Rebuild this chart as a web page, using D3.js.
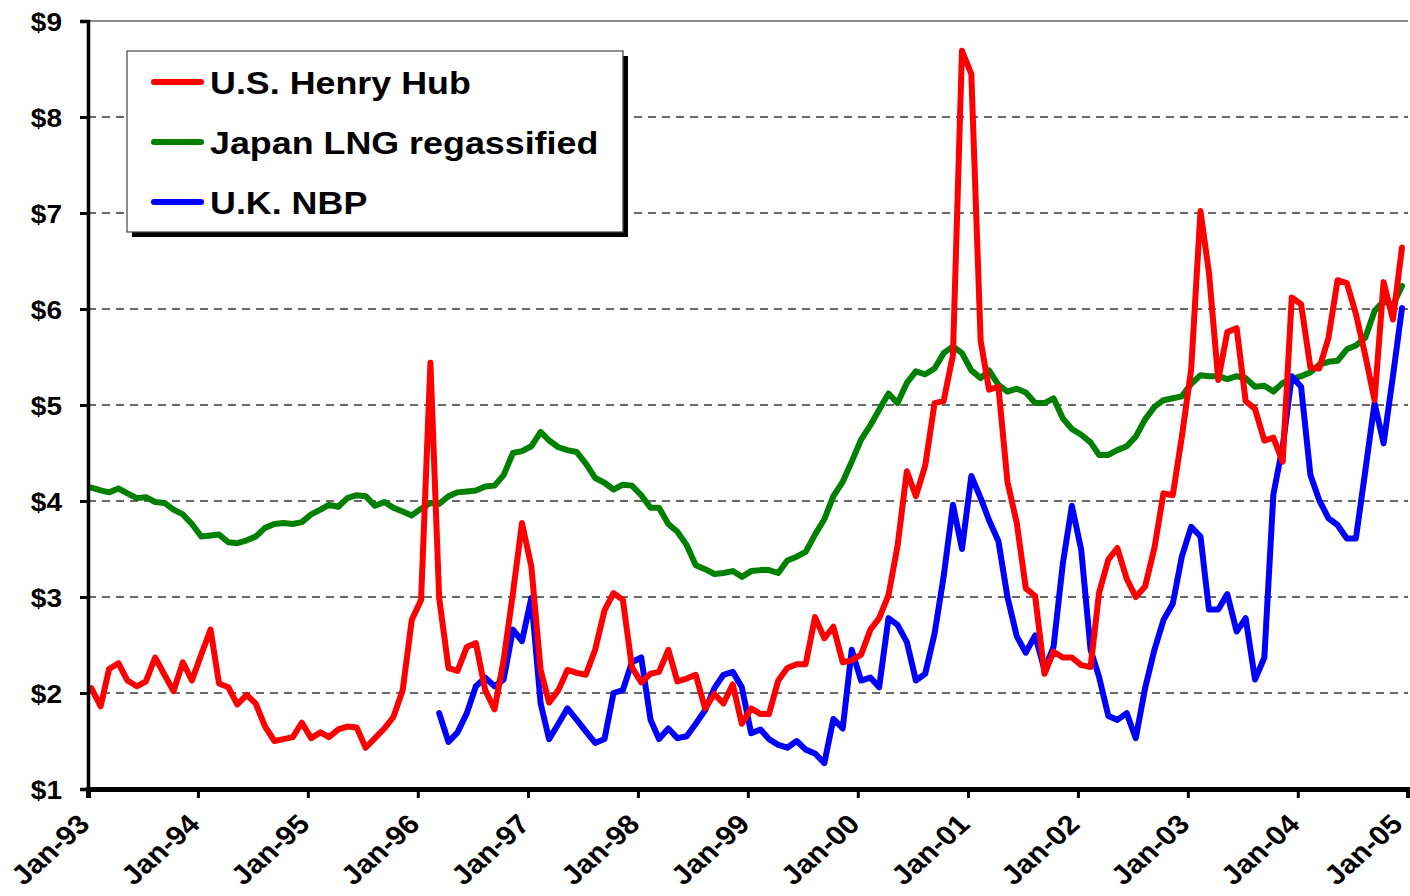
<!DOCTYPE html>
<html>
<head>
<meta charset="utf-8">
<script src="https://cdn.jsdelivr.net/npm/d3@7"></script>
<style>
  html, body { margin: 0; padding: 0; background: #ffffff; }
  svg { display: block; }
  text { font-family: "Liberation Sans", Arial, sans-serif; font-weight: bold; fill: #000; }
</style>
</head>
<body>
<svg id="chart" width="1410" height="896"></svg>
<script>
// ---------------- DATA ----------------
const firstYear = 1993;            // monthly series start: Jan-93
const monthCount = 144;            // Jan-93 .. Dec-04

const henryHub = [
  2.05,1.86,2.25,2.31,2.13,2.07,2.12,2.37,2.19,2.02,2.32,2.13,
  2.40,2.66,2.10,2.06,1.88,1.98,1.89,1.65,1.50,1.52,1.54,1.69,
  1.53,1.59,1.54,1.62,1.65,1.64,1.43,1.53,1.63,1.75,2.03,2.76,
  2.97,5.44,2.99,2.26,2.23,2.48,2.52,2.03,1.83,2.34,3.04,3.77,
  3.32,2.24,1.90,2.03,2.24,2.21,2.19,2.45,2.86,3.04,2.97,2.27,
  2.11,2.20,2.22,2.45,2.12,2.15,2.19,1.84,1.99,1.89,2.09,1.68,
  1.84,1.78,1.78,2.13,2.26,2.30,2.30,2.79,2.57,2.69,2.32,2.34,
  2.40,2.66,2.78,3.02,3.53,4.31,4.05,4.37,5.02,5.04,5.52,8.69,
  8.45,5.67,5.16,5.19,4.20,3.77,3.09,3.01,2.20,2.43,2.37,2.37,
  2.29,2.27,3.04,3.39,3.51,3.19,3.00,3.11,3.51,4.08,4.06,4.67,
  5.37,7.02,6.38,5.26,5.76,5.80,5.04,4.96,4.63,4.66,4.41,6.12,
  6.05,5.39,5.38,5.70,6.30,6.27,5.95,5.52,5.05,6.28,5.89,6.64
];

const japanLNG = [
  4.14,4.11,4.09,4.13,4.08,4.03,4.04,3.99,3.98,3.91,3.86,3.76,
  3.63,3.64,3.65,3.57,3.56,3.59,3.63,3.72,3.76,3.77,3.76,3.78,
  3.86,3.91,3.96,3.94,4.03,4.06,4.05,3.95,3.99,3.93,3.89,3.85,
  3.92,3.98,3.97,4.05,4.09,4.10,4.11,4.15,4.16,4.27,4.50,4.52,
  4.57,4.72,4.63,4.56,4.53,4.51,4.39,4.24,4.19,4.12,4.17,4.16,
  4.06,3.93,3.93,3.76,3.68,3.54,3.33,3.29,3.24,3.25,3.27,3.21,
  3.27,3.28,3.28,3.25,3.38,3.42,3.47,3.65,3.81,4.05,4.20,4.41,
  4.64,4.79,4.95,5.12,5.02,5.23,5.35,5.32,5.38,5.54,5.61,5.54,
  5.36,5.28,5.36,5.21,5.14,5.17,5.13,5.02,5.02,5.07,4.86,4.75,
  4.69,4.61,4.48,4.48,4.53,4.57,4.67,4.85,4.98,5.05,5.07,5.09,
  5.22,5.31,5.30,5.30,5.27,5.30,5.28,5.19,5.20,5.14,5.23,5.27,
  5.30,5.34,5.42,5.45,5.46,5.58,5.62,5.70,5.98,6.08,6.04,6.24
];

const ukNBP = [
  null,null,null,null,null,null,null,null,null,null,null,null,
  null,null,null,null,null,null,null,null,null,null,null,null,
  null,null,null,null,null,null,null,null,null,null,null,null,
  null,null,1.79,1.49,1.59,1.79,2.07,2.16,2.07,2.14,2.66,2.54,
  2.99,1.89,1.52,1.68,1.84,1.72,1.60,1.48,1.52,2.00,2.03,2.32,
  2.37,1.72,1.52,1.63,1.53,1.55,1.68,1.82,2.05,2.19,2.22,2.06,
  1.58,1.62,1.52,1.46,1.43,1.50,1.41,1.37,1.27,1.73,1.63,2.45,
  2.13,2.16,2.06,2.78,2.71,2.53,2.13,2.20,2.62,3.21,3.96,3.50,
  4.26,4.03,3.80,3.58,3.00,2.59,2.42,2.60,2.24,2.48,3.35,3.95,
  3.49,2.45,2.17,1.76,1.72,1.79,1.53,2.05,2.45,2.76,2.93,3.42,
  3.73,3.63,2.87,2.87,3.03,2.64,2.78,2.14,2.37,4.07,4.57,5.30,
  5.19,4.27,4.01,3.82,3.75,3.61,3.61,4.31,5.02,4.60,5.30,6.01
];

const seriesNames = ["U.S. Henry Hub", "Japan LNG regassified", "U.K. NBP"];
const seriesColors = ["#ff0000", "#008000", "#0000ff"];

const xTickLabels = ["Jan-93","Jan-94","Jan-95","Jan-96","Jan-97","Jan-98","Jan-99",
                     "Jan-00","Jan-01","Jan-02","Jan-03","Jan-04","Jan-05"];
const yTickValues = [1,2,3,4,5,6,7,8,9];

// ---------------- LAYOUT ----------------
const svg = d3.select("#chart");
const plotLeft = 88, plotRight = 1408, plotTop = 21, plotBottom = 789;
const stretch = 1.12; // horizontal stretch of the original rendering

const months = d3.range(monthCount).map(i => new Date(firstYear, i, 12));

const x = d3.scaleTime()
  .domain([new Date(firstYear, 0, 1), new Date(firstYear + 12, 0, 1)])
  .range([plotLeft, plotRight]);
const y = d3.scaleLinear().domain([1, 9]).range([plotBottom, plotTop]);

// gridlines
svg.append("g")
  .selectAll("line")
  .data(yTickValues.filter(v => v > 1 && v < 9))
  .join("line")
  .attr("x1", plotLeft).attr("x2", plotRight)
  .attr("y1", d => y(d)).attr("y2", d => y(d))
  .attr("stroke", "#383838")
  .attr("stroke-width", 1.3)
  .attr("stroke-dasharray", "8,6");

// top border line
svg.append("line")
  .attr("x1", plotLeft).attr("x2", plotRight)
  .attr("y1", y(9)).attr("y2", y(9))
  .attr("stroke", "#8c8c8c").attr("stroke-width", 2);

// series lines
const seriesData = [henryHub, japanLNG, ukNBP];
const line = d3.line()
  .defined(d => d.v != null)
  .x(d => x(d.date))
  .y(d => y(d.v));

const drawOrder = [1, 2, 0];
drawOrder.forEach(k => {
  const pts = seriesData[k].map((v, i) => ({ date: months[i], v }));
  svg.append("path")
    .datum(pts)
    .attr("d", line)
    .attr("fill", "none")
    .attr("stroke", seriesColors[k])
    .attr("stroke-width", 6)
    .attr("stroke-linejoin", "round")
    .attr("stroke-linecap", "round");
});

// y axis
const yAxis = d3.axisLeft(y).tickValues(yTickValues).tickSize(8).tickFormat(d => "$" + d);
const gy = svg.append("g").attr("transform", `translate(${plotLeft},0)`).call(yAxis);
gy.select(".domain").attr("stroke", "#000").attr("stroke-width", 3.5);
gy.selectAll(".tick line").attr("stroke", "#000").attr("stroke-width", 3);
gy.selectAll(".tick text").remove();
gy.selectAll(".tick").append("text")
  .attr("transform", `translate(-26,0) scale(${stretch},1)`)
  .attr("text-anchor", "end")
  .attr("dy", "0.36em")
  .style("font-size", "25px")
  .attr("fill", "#000")
  .text(d => "$" + d);

// x axis
const xTickDates = xTickLabels.map((t, i) => new Date(firstYear + i, 0, 1));
const xAxis = d3.axisBottom(x).tickValues(xTickDates).tickSize(9).tickFormat((d, i) => xTickLabels[i]);
const gx = svg.append("g").attr("transform", `translate(0,${plotBottom})`).call(xAxis);
gx.select(".domain").attr("stroke", "#000").attr("stroke-width", 5);
gx.selectAll(".tick line").attr("stroke", "#000").attr("stroke-width", 3);
gx.selectAll(".tick text").remove();
gx.selectAll(".tick").append("text")
  .attr("transform", (d, i) => `translate(${i === xTickLabels.length - 1 ? -4 : 3},37) scale(${stretch},1) rotate(-45)`)
  .attr("text-anchor", "end")
  .style("font-size", "27px")
  .attr("fill", "#000")
  .text((d, i) => xTickLabels[i]);

// legend
const lg = svg.append("g");
const lx = 127, ly = 51, lw = 496, lh = 181;
lg.append("rect").attr("x", lx + 5).attr("y", ly + 5).attr("width", lw).attr("height", lh).attr("fill", "#000");
lg.append("rect").attr("x", lx).attr("y", ly).attr("width", lw).attr("height", lh)
  .attr("fill", "#fff").attr("stroke", "#444").attr("stroke-width", 1.2);
seriesNames.forEach((name, k) => {
  const yy = ly + 31 + k * 60;
  lg.append("line")
    .attr("x1", lx + 27).attr("x2", lx + 74)
    .attr("y1", yy).attr("y2", yy)
    .attr("stroke", seriesColors[k]).attr("stroke-width", 6)
    .attr("stroke-linecap", "round");
  lg.append("text")
    .attr("transform", `translate(${lx + 83},${yy}) scale(${stretch},1)`)
    .attr("dy", "0.36em")
    .style("font-size", "32px")
    .attr("fill", "#000")
    .text(name);
});
</script>
</body>
</html>
